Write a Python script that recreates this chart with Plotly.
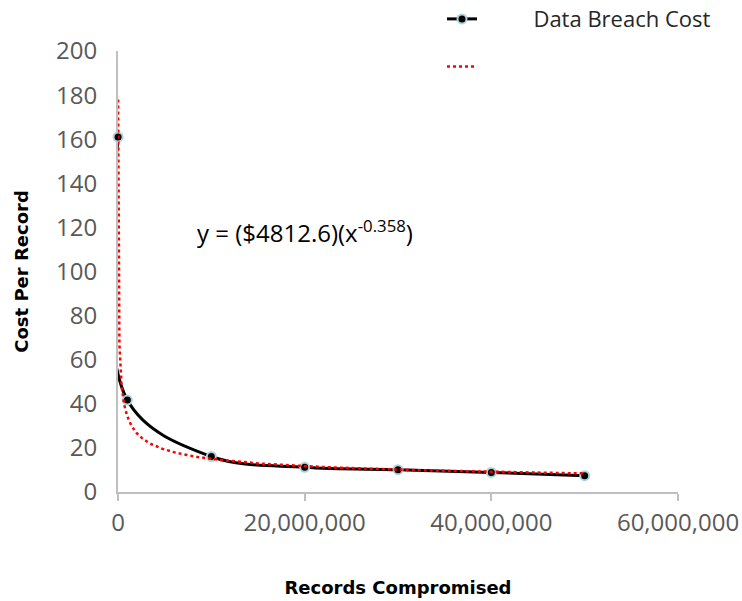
import numpy as np
import plotly.graph_objects as go

# ---- data ----
records = [10000, 1000000, 10000000, 20000000, 30000000, 40000000, 50000000]
cost_per_record = [161, 41.7, 16.1, 11.2, 10.1, 8.9, 7.4]
series_name = "Data Breach Cost"

# power trendline as printed on the chart: y = A * x^B
TREND_A = 4812.6
TREND_B = -0.358

x_ticks = [0, 20000000, 40000000, 60000000]
y_ticks = [0, 20, 40, 60, 80, 100, 120, 140, 160, 180, 200]

trend_x = np.geomspace(min(records), max(records), 400)
trend_y = TREND_A * trend_x ** TREND_B

AXIS_GREY = "#bfbfbf"
TICK_FONT = dict(family="Open Sans", size=24, color="#595959")

fig = go.Figure()
fig.add_trace(go.Scatter(
    x=records, y=cost_per_record, name="&nbsp;" * 9 + series_name,
    mode="lines+markers", line=dict(color="black", width=3, shape="spline", smoothing=1),
    marker=dict(color="black", size=9, line=dict(color="#a8d4da", width=2)),
    legendgroup="a", legendrank=1, cliponaxis=False,
))
fig.add_trace(go.Scatter(
    x=trend_x, y=trend_y, name=" ",
    mode="lines", line=dict(color="#ff0000", width=2.5, dash="dot"),
    legendgroup="b", legendrank=2,
))

fig.add_annotation(
    x=8250000, y=118, xref="x", yref="y", showarrow=False,
    xanchor="left", yanchor="middle",
    text="y = ($4812.6)(x<sup>-0.358</sup>)",
    font=dict(family="Open Sans", size=24, color="black"),
)

fig.update_layout(
    width=742, height=601,
    margin=dict(l=118, r=64, t=51, b=109, autoexpand=False),
    paper_bgcolor="white", plot_bgcolor="white",
    showlegend=True,
    legend=dict(
        x=(442 - 118) / 560, y=1.12,
        xanchor="left", yanchor="top",
        font=dict(family="Open Sans", size=22, color="#262626"),
        traceorder="grouped", tracegroupgap=16,
        bgcolor="rgba(0,0,0,0)",
    ),
    xaxis=dict(
        range=[0, 60000000], tickvals=x_ticks, tickformat=",",
        showline=True, linecolor=AXIS_GREY, linewidth=2, layer="below traces",
        ticks="outside", tickcolor=AXIS_GREY, ticklen=7, tickwidth=2,
        showgrid=False, zeroline=False, tickfont=TICK_FONT, tickangle=0,
        ticklabelstandoff=1,
        title=dict(text="<b>Records Compromised</b>", standoff=45,
                   font=dict(family="DejaVu Sans", size=18, color="black")),
    ),
    yaxis=dict(
        range=[0, 200], tickvals=y_ticks,
        showline=True, linecolor=AXIS_GREY, linewidth=2, layer="below traces",
        ticks="", showgrid=False, zeroline=False, tickfont=TICK_FONT,
        ticklabelstandoff=14,
        title=dict(text="<b>Cost Per Record</b>", standoff=23,
                   font=dict(family="DejaVu Sans", size=18, color="black")),
    ),
)

fig.write_html(
    "out.html",
    config={"displayModeBar": False},
    post_script="document.body.style.margin='0';document.body.style.overflow='hidden';",
)
